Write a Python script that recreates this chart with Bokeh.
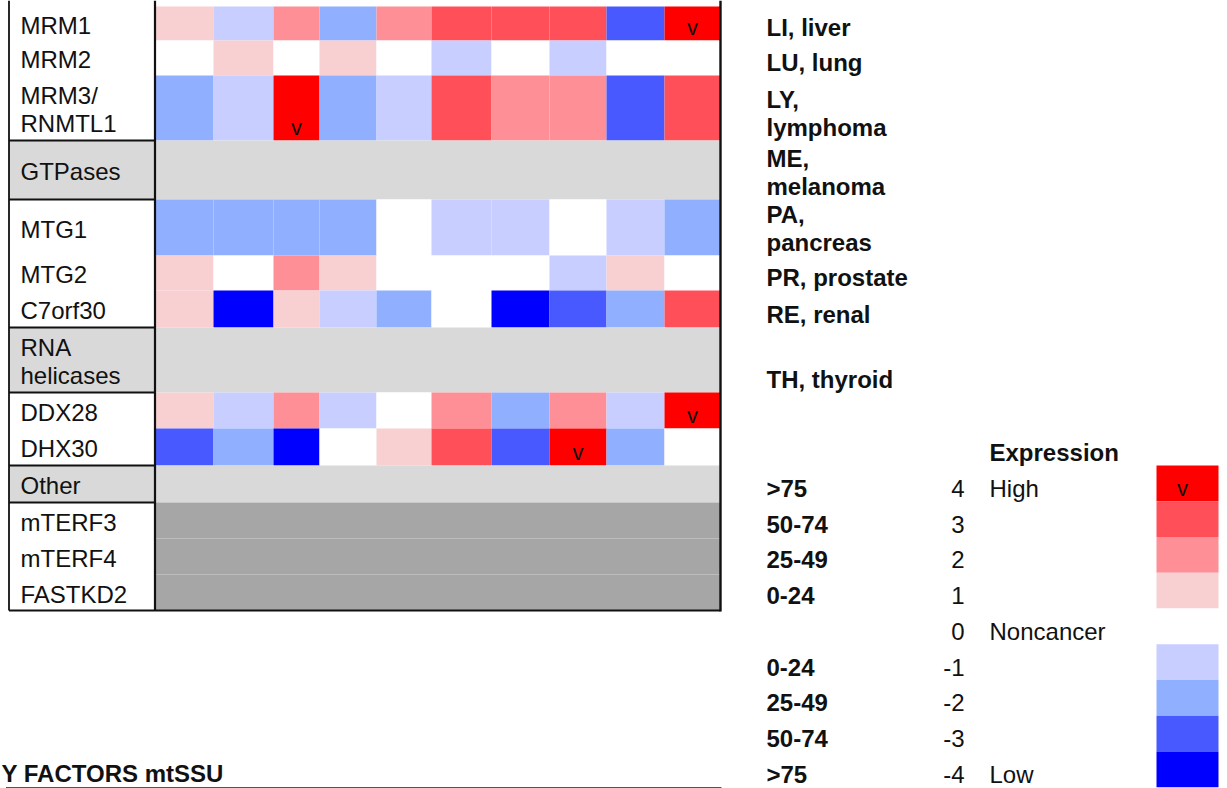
from bokeh.plotting import figure
from bokeh.models import ColumnDataSource, Range1d
from bokeh.embed import file_html
from bokeh.resources import INLINE
from bokeh.core.properties import value

# ---------------- data ----------------
row_labels = ["MRM1", "MRM2", "MRM3/\nRNMTL1", "GTPases", "MTG1", "MTG2", "C7orf30",
              "RNA\nhelicases", "DDX28", "DHX30", "Other", "mTERF3", "mTERF4", "FASTKD2"]
row_kinds = ["gene", "gene", "gene", "group", "gene", "gene", "gene",
             "group", "gene", "gene", "group", "nodata", "nodata", "nodata"]

MRM1 = [1, -1, 2, -2, 2, 3, 3, 3, -3, 4]
MRM2 = [0, 1, 0, 1, 0, -1, 0, -1, 0, 0]
MRM3_RNMTL1 = [-2, -1, 4, -2, -1, 3, 2, 2, -3, 3]
MTG1 = [-2, -2, -2, -2, 0, -1, -1, 0, -1, -2]
MTG2 = [1, 0, 2, 1, 0, 0, 0, -1, 1, 0]
C7orf30 = [1, -4, 1, -1, -2, 0, -4, -3, -2, 3]
DDX28 = [1, -1, 2, -1, 0, 2, -2, 2, -1, 4]
DHX30 = [-3, -2, -4, 0, 1, 3, -3, 4, -2, 0]
gene_values = {"MRM1": MRM1, "MRM2": MRM2, "MRM3/\nRNMTL1": MRM3_RNMTL1,
               "MTG1": MTG1, "MTG2": MTG2, "C7orf30": C7orf30,
               "DDX28": DDX28, "DHX30": DHX30}

tissue_legend = ["LI, liver", "LU, lung", "LY,\nlymphoma", "ME,\nmelanoma",
                 "PA,\npancreas", "PR, prostate", "RE, renal", "TH, thyroid"]

levels = [4, 3, 2, 1, 0, -1, -2, -3, -4]
level_ranges = [">75", "50-74", "25-49", "0-24", "", "0-24", "25-49", "50-74", ">75"]
level_words = ["High", "", "", "", "Noncancer", "", "", "", "Low"]
legend_title = "Expression"
top_mark = "v"
footer_text = "Y FACTORS mtSSU"

# ---------------- styles / layout ----------------
PALETTE = {4: "#FF0000", 3: "#FF505A", 2: "#FF8F96", 1: "#F8D0D2", 0: "#FFFFFF",
           -1: "#C8CEFF", -2: "#91AFFF", -3: "#485AFF", -4: "#0000FF"}
GROUP_GRAY = "#D9D9D9"
NODATA_GRAY = "#A6A6A6"
FONT = value("Liberation Sans")
FS = "24px"

LABEL_LEFT, GRID_LEFT, GRID_RIGHT = 8.5, 155, 720
COL_W = [58, 60, 46, 57, 55, 60, 58, 57, 58, 56]     # spreadsheet column widths (px)
TABLE_TOP = 6
ROW_H = [34, 35, 65, 59, 56, 35, 37, 65, 36, 37, 37, 36, 36, 36]
LINE_H = 28
BOTTOM_PAD = 13          # centre of a bottom-aligned text above its cell bottom
TIS_X = 766
LEG_TOP, LEG_STEP = 465, 35.75
SW_L, SW_R = 1156, 1218
NUM_X, WORD_X = 964, 989

col_left, c = [], GRID_LEFT
for w in COL_W:
    col_left.append(c)
    c += w
col_right = [a + w for a, w in zip(col_left, COL_W)]

rows_top, t = [], TABLE_TOP
for h in ROW_H:
    rows_top.append(t)
    t += h
rows_bot = [a + h for a, h in zip(rows_top, ROW_H)]
TABLE_BOT = rows_bot[-1]

p = figure(width=1227, height=788, x_range=Range1d(0, 1227), y_range=Range1d(788, 0),
           output_backend="svg", toolbar_location=None, min_border=0)
p.axis.visible = False
p.grid.visible = False
p.outline_line_color = None
p.background_fill_color = "white"
p.border_fill_color = "white"

# ---------------- cells ----------------
q = dict(left=[], right=[], top=[], bottom=[], color=[])
vx, vy = [], []
for r, (lab, kind) in enumerate(zip(row_labels, row_kinds)):
    if kind == "gene":
        for i, v in enumerate(gene_values[lab]):
            q["left"].append(col_left[i])
            q["right"].append(col_right[i])
            q["top"].append(rows_top[r])
            q["bottom"].append(rows_bot[r])
            q["color"].append(PALETTE[v])
            if v == 4:
                vx.append((col_left[i] + col_right[i]) / 2)
                vy.append(rows_bot[r] - BOTTOM_PAD)
    elif kind == "group":
        q["left"].append(LABEL_LEFT)
        q["right"].append(GRID_RIGHT)
        q["top"].append(rows_top[r])
        q["bottom"].append(rows_bot[r])
        q["color"].append(GROUP_GRAY)
    else:
        q["left"].append(GRID_LEFT)
        q["right"].append(GRID_RIGHT)
        q["top"].append(rows_top[r])
        q["bottom"].append(rows_bot[r])
        q["color"].append(NODATA_GRAY)

# legend swatches
for k, lv in enumerate(levels):
    q["left"].append(SW_L)
    q["right"].append(SW_R)
    q["top"].append(LEG_TOP + k * LEG_STEP)
    q["bottom"].append(LEG_TOP + (k + 1) * LEG_STEP)
    q["color"].append(PALETTE[lv])
    if lv == 4:
        vx.append((SW_L + SW_R) / 2 - 5)
        vy.append(LEG_TOP + (k + 1) * LEG_STEP - BOTTOM_PAD)

p.quad(left="left", right="right", top="top", bottom="bottom", fill_color="color",
       line_color=None, source=ColumnDataSource(q))

# ---------------- lines ----------------
seg = dict(x0=[], y0=[], x1=[], y1=[], w=[])
def add_seg(x0, y0, x1, y1, w):
    seg["x0"].append(x0); seg["y0"].append(y0)
    seg["x1"].append(x1); seg["y1"].append(y1); seg["w"].append(w)

add_seg(LABEL_LEFT, 0, LABEL_LEFT, TABLE_BOT, 1.8)
add_seg(GRID_LEFT - 0.5, 0, GRID_LEFT - 0.5, TABLE_BOT, 2.2)
add_seg(GRID_RIGHT, 0, GRID_RIGHT, TABLE_BOT + 1, 2.4)
add_seg(LABEL_LEFT, TABLE_BOT, GRID_RIGHT, TABLE_BOT, 2.2)
for r, kind in enumerate(row_kinds):
    if kind == "group":
        add_seg(LABEL_LEFT, rows_top[r], GRID_LEFT, rows_top[r], 1.8)
        add_seg(LABEL_LEFT, rows_bot[r], GRID_LEFT, rows_bot[r], 1.8)
p.segment(x0="x0", y0="y0", x1="x1", y1="y1", line_width="w", line_color="#111111",
          source=ColumnDataSource(seg))
# footer rule
p.segment(x0=[LABEL_LEFT - 3], y0=[787], x1=[GRID_RIGHT + 1], y1=[787],
          line_width=1.2, line_color="#555555")

# ---------------- texts ----------------
# row labels (vertically centred, may be 2 lines)
lx, ly, lt = [], [], []
for r, lab in enumerate(row_labels):
    parts = lab.split("\n")
    n = len(parts)
    cy = (rows_top[r] + rows_bot[r]) / 2 + 1.5
    for i, s in enumerate(parts):
        lx.append(20); ly.append(cy + (i - (n - 1) / 2) * LINE_H); lt.append(s)
p.text(x=lx, y=ly, text=lt, text_font=FONT, text_font_size=FS,
       text_baseline="middle", text_align="left", text_color="#111111")

# tissue legend (bottom aligned in the sheet rows)
tx, ty, tt = [], [], []
for r, lab in enumerate(tissue_legend):
    parts = lab.split("\n")
    n = len(parts)
    for i, s in enumerate(parts):
        tx.append(TIS_X)
        ty.append(rows_bot[r] - BOTTOM_PAD - (n - 1 - i) * LINE_H)
        tt.append(s)
p.text(x=tx, y=ty, text=tt, text_font=FONT, text_font_size=FS, text_font_style="bold",
       text_baseline="middle", text_align="left", text_color="#111111")

# expression legend
base = [LEG_TOP + (k + 1) * LEG_STEP - BOTTOM_PAD for k in range(len(levels))]
p.text(x=[TIS_X] * len(levels), y=base, text=level_ranges, text_font=FONT,
       text_font_size=FS, text_font_style="bold", text_baseline="middle",
       text_align="left", text_color="#111111")
p.text(x=[NUM_X] * len(levels), y=base, text=[str(v) for v in levels], text_font=FONT,
       text_font_size=FS, text_baseline="middle", text_align="right",
       text_color="#111111")
p.text(x=[WORD_X] * len(levels), y=base, text=level_words, text_font=FONT,
       text_font_size=FS, text_baseline="middle", text_align="left",
       text_color="#111111")
p.text(x=[WORD_X], y=[LEG_TOP - BOTTOM_PAD], text=[legend_title], text_font=FONT,
       text_font_size=FS, text_font_style="bold", text_baseline="middle",
       text_align="left", text_color="#111111")

# "v" marks on top-level cells
p.text(x=vx, y=vy, text=[top_mark] * len(vx), text_font=FONT, text_font_size="22px",
       text_baseline="middle", text_align="center", text_color="#111111")

# footer title
p.text(x=[1], y=[773], text=[footer_text], text_font=FONT, text_font_size=FS,
       text_font_style="bold", text_baseline="middle", text_align="left",
       text_color="#111111")

open("out.html", "w").write(file_html(p, INLINE))
